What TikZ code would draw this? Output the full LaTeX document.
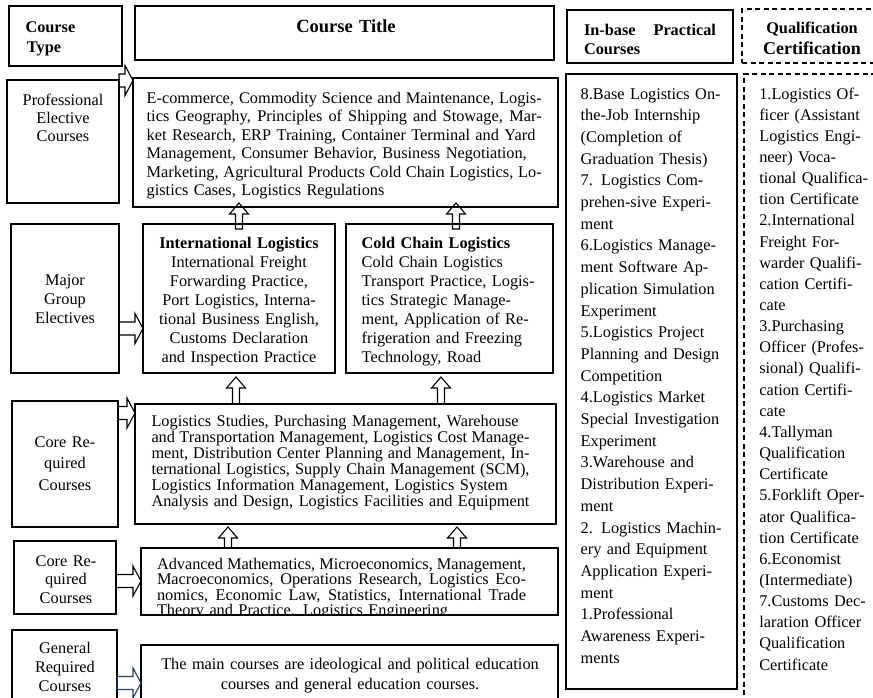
\documentclass[tikz,border=0pt]{standalone}
\usepackage{fontspec}
\setmainfont{Liberation Serif}
\usetikzlibrary{calc}
\definecolor{arrblue}{RGB}{38,64,97}
\newcommand\J[1]{\leavevmode\hbox to\linewidth{\spaceskip=0.25em plus 1em minus 0.06em\relax #1}}
\newcommand\mybox[6][bx]{\node[#1, minimum width={#5-#3}, minimum height={#6-#4}] (#2) at ({(#3+#5)/2},{(#4+#6)/2}) {};}
\newcommand\fs[1]{\fontsize{16.3}{#1}\selectfont\lineskiplimit=-20pt}
\begin{document}
\begin{tikzpicture}[x=1pt,y=-1pt,
  bx/.style={draw, line width=1.2pt, inner sep=0pt, outer sep=0pt},
  dbx/.style={bx, dash pattern=on 5pt off 3.5pt},
  t/.style={inner sep=0pt, outer sep=0pt, anchor=base west, align=left},
  tc/.style={inner sep=0pt, outer sep=0pt, anchor=base, align=center},
  rarr/.style={draw, line width=1.1pt, to path={let \p1=(\tikztostart), \p2=(\tikztotarget) in
     (\x1,\y1+6.5pt) -- (\x2-8pt,\y1+6.5pt) -- (\x2-8pt,\y1+15pt) -- (\x2,\y1)
     -- (\x2-8pt,\y1-15pt) -- (\x2-8pt,\y1-6.5pt) -- (\x1,\y1-6.5pt) -- cycle}},
  uarr/.style 2 args={draw, line width=1.1pt, to path={let \p1=(\tikztostart), \p2=(\tikztotarget) in
     (\x1-3.5pt,\y1-#1) -- (\x1-3.5pt,\y2+#2-11pt) -- (\x1-9.5pt,\y2+#2-11pt) -- (\x1,\y2+#2)
     -- (\x1+9.5pt,\y2+#2-11pt) -- (\x1+3.5pt,\y2+#2-11pt) -- (\x1+3.5pt,\y1-#1) -- cycle}}
]
\useasboundingbox (0,0) rectangle (873,697);
\clip (0,0) rectangle (873,697);

% boxes
\mybox{ct}{9}{6}{122}{66}
\mybox{ctl}{135}{6}{554}{60}
\mybox{ibh}{567}{10}{733}{63}
\mybox[dbx]{qch}{742}{9}{877}{63}
\mybox{pe}{7}{80}{119}{203}
\mybox{ec}{133}{78}{558}{207}
\mybox{mg}{11}{224}{119}{373}
\mybox{il}{143}{224}{335}{373}
\mybox{cc}{346}{224}{553}{373}
\mybox{cra}{12}{401}{118}{527}
\mybox{ls}{135}{404}{556}{524}
\mybox{crb}{14}{541}{116}{614}
\mybox{am}{141}{548}{558}{615}
\mybox{gr}{12}{630}{117}{705}
\mybox{mc}{141}{645}{558}{705}
\mybox{ib}{566}{74}{737}{689}
\mybox[dbx]{qc}{744}{74}{877}{705}

% headers
\node[t, text width=90pt, font=\bfseries\fs{20}] (ctT) at (25.5,32) {Course\\\hspace{1.5pt}Type};
\node[tc, text width=400pt, font=\bfseries\fontsize{18.5}{22}\selectfont] (ctlT) at (346,32.5) {Course Title};
\node[t, text width=140pt, font=\bfseries\fs{19}] (ibhT) at (584,35) {\leavevmode\hbox to 132pt{In-base\hfill Practical}\\Courses};
\node[tc, text width=125pt, font=\bfseries\fs{19}] (qchT) at (812,33) {Qualification};
\node[tc, text width=125pt, font=\bfseries\fontsize{18}{20}\selectfont] (qchT2) at (812,54.5) {Certification};

% left column labels
\node[tc, text width=108pt, font=\fs{18.4}] (peT) at (63,105) {Professional\\Elective\\Courses};
\node[tc, text width=104pt, font=\fs{19.2}] (mgT) at (65,285) {Major\\Group\\Electives};
\node[tc, text width=104pt, font=\fs{21.5}] (craT) at (65,447) {Core Re-\\quired\\Courses};
\node[tc, text width=100pt, font=\fs{18.5}] (crbT) at (66,566) {Core Re-\\quired\\Courses};
\node[tc, text width=104pt, font=\fs{19}] (grT) at (65,653) {General\\Required\\Courses};

% course contents
\node[t, text width=395pt, font=\fs{18.5}] (ecT) at (146.7,103.3) {%
\J{E-commerce, Commodity Science and Maintenance, Logis-}\\
\J{tics Geography, Principles of Shipping and Stowage, Mar-}\\
ket Research, ERP Training, Container Terminal and Yard\\
Management, Consumer Behavior, Business Negotiation,\\
\J{Marketing, Agricultural Products Cold Chain Logistics, Lo-}\\
gistics Cases, Logistics Regulations};

\node[tc, text width=190pt, font=\fs{19}] (ilT) at (239,248.3) {\textbf{International Logistics}\\
International Freight\\Forwarding Practice,\\Port Logistics, Interna-\\tional Business English,\\
Customs Declaration\\and Inspection Practice};

\node[t, text width=200pt, font=\fs{19}] (ccT) at (361.7,248.3) {\textbf{Cold Chain Logistics}\\
Cold Chain Logistics\\Transport Practice, Logis-\\tics Strategic Manage-\\ment, Application of Re-\\
frigeration and Freezing\\Technology, Road};

\node[t, text width=378pt, font=\fs{16}] (lsT) at (151.5,426) {%
Logistics Studies, Purchasing Management, Warehouse\\
\J{and Transportation Management, Logistics Cost Manage-}\\
\J{ment, Distribution Center Planning and Management, In-}\\
\J{ternational Logistics, Supply Chain Management (SCM),}\\
Logistics Information Management, Logistics System\\
\J{Analysis and Design, Logistics Facilities and Equipment}};

\begin{scope}
\clip (am.north west) rectangle (am.south east);
\node[t, text width=369pt, font=\fs{15.5}] (amT) at (157,569) {%
\J{Advanced Mathematics, Microeconomics, Management,}\\
\J{Macroeconomics, Operations Research, Logistics Eco-}\\
\J{nomics, Economic Law, Statistics, International Trade}\\
Theory and Practice. Logistics Engineering};
\end{scope}

\node[tc, text width=410pt, font=\fs{20}] (mcT) at (350,669) {The main courses are ideological and political education\\courses and general education courses.};

% right columns
\node[t, text width=156pt, font=\fs{21.7}] (ibT) at (580.7,99) {%
8.Base Logistics On-\\the-Job Internship\\(Completion of\\Graduation Thesis)\\
7. Logistics Com-\\prehen-sive Experi-\\ment\\
6.Logistics Manage-\\ment Software Ap-\\plication Simulation\\Experiment\\
5.Logistics Project\\Planning and Design\\Competition\\
4.Logistics Market\\Special Investigation\\Experiment\\
3.Warehouse and\\Distribution Experi-\\ment\\
2. Logistics Machin-\\ery and Equipment\\Application Experi-\\ment\\
1.Professional\\Awareness Experi-\\ments};

\node[t, text width=125pt, font=\fs{21.15}] (qcT) at (759.3,99) {%
1.Logistics Of-\\ficer (Assistant\\Logistics Engi-\\neer) Voca-\\tional Qualifica-\\tion Certificate\\
2.International\\Freight For-\\warder Qualifi-\\cation Certifi-\\cate\\
3.Purchasing\\Officer (Profes-\\sional) Qualifi-\\cation Certifi-\\cate\\
4.Tallyman\\Qualification\\Certificate\\
5.Forklift Oper-\\ator Qualifica-\\tion Certificate\\
6.Economist\\(Intermediate)\\
7.Customs Dec-\\laration Officer\\Qualification\\Certificate};

% horizontal block arrows
\draw[rarr] (pe.east |- 0,80.5) to (ec.west |- 0,80.5);
\draw[rarr] (mg.east |- 0,328.5) to (il.west |- 0,328.5);
\draw[rarr] (cra.east |- 0,413) to (ls.west |- 0,413);
\draw[rarr] (crb.east |- 0,581) to (am.west |- 0,581);
\draw[rarr, draw=arrblue] (gr.east |- 0,683) to (mc.west |- 0,683);

% vertical block arrows
\draw[uarr={5pt}{4pt}] (il.north -| 239,0) to (ec.south -| 239,0);
\draw[uarr={5pt}{4pt}] (cc.north -| 456,0) to (ec.south -| 456,0);
\draw[uarr={0pt}{-4pt}] (ls.north -| 236,0) to (il.south -| 236,0);
\draw[uarr={0pt}{-4pt}] (ls.north -| 441,0) to (cc.south -| 441,0);
\draw[uarr={0pt}{-3pt}] (am.north -| 228,0) to (ls.south -| 228,0);
\draw[uarr={0pt}{-3pt}] (am.north -| 457,0) to (ls.south -| 457,0);
\end{tikzpicture}
\end{document}
